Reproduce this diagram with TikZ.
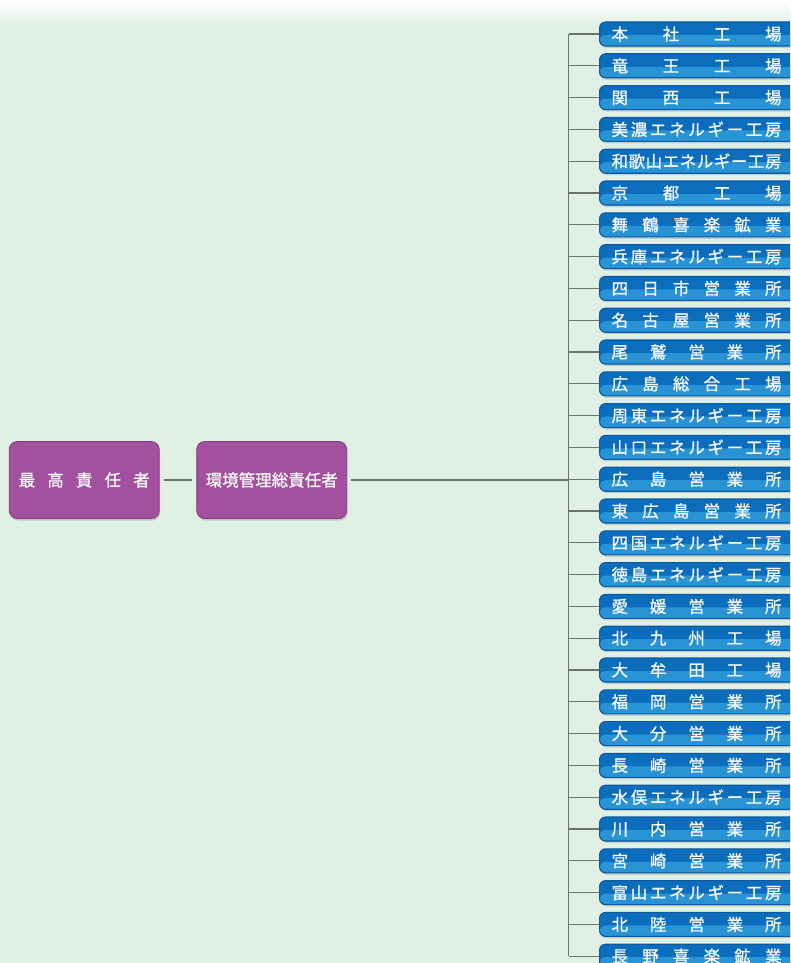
\documentclass[tikz,border=0pt]{standalone}
\usepackage{fontspec}
\newfontfamily\jp{Noto Sans CJK JP}[FakeBold=0.7]
\usetikzlibrary{shadows}

\definecolor{bggreen}{HTML}{E1F0E5}
\definecolor{linegray}{HTML}{6B756E}
\definecolor{bluetop}{HTML}{0D6DBD}
\definecolor{bluebot}{HTML}{2893D5}
\definecolor{blueedge}{HTML}{0A5AA3}
\definecolor{purplefill}{HTML}{A3519E}
\definecolor{purpleedge}{HTML}{8A3C86}

% spread the characters of a string evenly over a fixed width
\def\spreadloop#1{\ifx#1\relax\else\hfil#1\expandafter\spreadloop\fi}
\def\spreadfirst#1{#1\spreadloop}
\newcommand\spreadtext[2]{\makebox[#1][s]{\expandafter\spreadfirst#2\relax}}

\tikzset{
  conn/.style={draw=linegray, line width=1.3pt},
  sitebox/.style={
    rounded corners=6pt, minimum height=24pt, inner xsep=12pt, inner ysep=0pt,
    fill=bluetop, draw=blueedge, line width=1.1pt,
    drop shadow={shadow xshift=1pt, shadow yshift=-2pt, opacity=0.3},
    path picture={\fill[bluebot] ([yshift=-1pt]path picture bounding box.west) rectangle (path picture bounding box.south east);},
    text=white, font=\jp\fontsize{16.5}{18}\selectfont, anchor=west},
  headbox/.style={
    rounded corners=8pt, minimum width=150pt, minimum height=77pt, inner sep=0pt,
    fill=purplefill, draw=purpleedge, line width=0.8pt,
    drop shadow={shadow xshift=1pt, shadow yshift=-2pt, opacity=0.35},
    text=white, font=\jp\fontsize{16.5}{18}\selectfont},
}

\begin{document}
\begin{tikzpicture}[x=1pt, y=-1pt]
  \useasboundingbox (0,0) rectangle (790,963);
  \clip (0,0) rectangle (790,963);

  % background with a pale fade at the top edge
  \fill[bggreen] (0,0) rectangle (790,963);
  \shade[top color=white, bottom color=bggreen] (0,0) rectangle (790,26);

  % executive boxes
  \node[headbox] (p1) at (84.2,480) {\spreadtext{131pt}{最高責任者}};
  \node[headbox] (p2) at (271.7,480) {環境管理総責任者};

  \coordinate (trunk) at (568.5,480);

  % sites
  \foreach \t [count=\i] in {本社工場,竜王工場,関西工場,美濃エネルギー工房,和歌山エネルギー工房,京都工場,舞鶴喜楽鉱業,兵庫エネルギー工房,四日市営業所,名古屋営業所,尾鷲営業所,広島総合工場,周東エネルギー工房,山口エネルギー工房,広島営業所,東広島営業所,四国エネルギー工房,徳島エネルギー工房,愛媛営業所,北九州工場,大牟田工場,福岡営業所,大分営業所,長崎営業所,水俣エネルギー工房,川内営業所,宮崎営業所,富山エネルギー工房,北陸営業所,長野喜楽鉱業} {
    \node[sitebox] (b\i) at (599, {34+(\i-1)*31.8}) {\spreadtext{170pt}{\t}\hspace*{16pt}};
    \draw[conn] (b\i.west) -- (b\i.west -| trunk);
  }

  % connectors
  \draw[conn] (p1.east) ++(4,0) -- ([xshift=-4pt]p2.west);
  \draw[conn] ([xshift=4pt]p2.east) -- (trunk);
  \draw[conn] (b1.west -| trunk) -- (b30.west -| trunk);
\end{tikzpicture}
\end{document}
